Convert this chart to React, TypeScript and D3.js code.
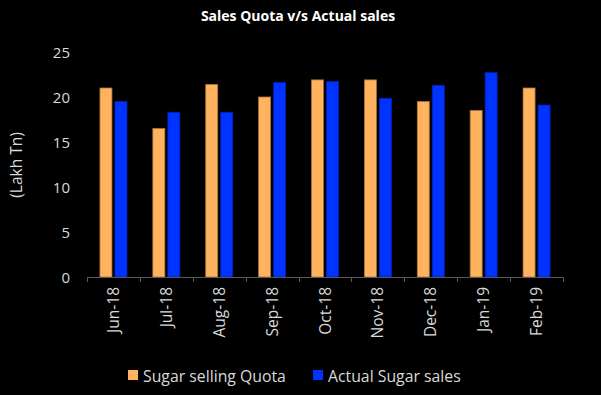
import React from "react";
import * as d3 from "d3";

const categories = ["Jun-18", "Jul-18", "Aug-18", "Sep-18", "Oct-18", "Nov-18", "Dec-18", "Jan-19", "Feb-19"];
const quota = [21, 16.5, 21.4, 20, 21.9, 21.9, 19.5, 18.5, 21];
const actual = [19.5, 18.3, 18.3, 21.6, 21.7, 19.85, 21.3, 22.7, 19.1];
const yTicks = [0, 5, 10, 15, 20, 25];
const seriesNames = ["Sugar selling Quota", "Actual Sugar sales"];

const W = 601;
const H = 395;
const FONT = "'Open Sans', 'Noto Sans', sans-serif";

export default function App() {
  const x = d3.scaleBand().domain(categories).range([87, 563]).paddingInner(0).paddingOuter(0);
  const y = d3.scaleLinear().domain([0, 25]).range([277, 52]);
  const barW = 12;
  const gap = 3;
  const colors = ["#FFB35F", "#0033FF"];
  const strokes = ["#A8733A", "#0022BB"];
  const series = [quota, actual];

  return (
    <div style={{ position: "fixed", left: 0, top: 0, width: W, height: H, background: "#000" }}>
      <svg width={W} height={H} style={{ display: "block" }}>
        <rect width={W} height={H} fill="#000" />
        <text x={298} y={21} textAnchor="middle" fill="#fff" fontFamily={FONT} fontWeight="bold" fontSize={14}>
          Sales Quota v/s Actual sales
        </text>
        <text
          transform={`translate(22,165) rotate(-90)`}
          textAnchor="middle"
          fill="#d9d9d9"
          fontFamily={FONT}
          fontSize={15.5}
        >
          (Lakh Tn)
        </text>
        {yTicks.map((t) => (
          <text key={t} x={70} y={y(t) + 5.5} textAnchor="end" fill="#d9d9d9" fontFamily={FONT} fontSize={15}>
            {t}
          </text>
        ))}
        {categories.map((c, i) => {
          const cx = (x(c) as number) + x.bandwidth() / 2;
          return (
            <g key={c}>
              {series.map((s, k) => {
                const bx = k === 0 ? cx - gap / 2 - barW : cx + gap / 2;
                return (
                  <rect
                    key={k}
                    x={bx}
                    y={y(s[i])}
                    width={barW}
                    height={y(0) - y(s[i])}
                    fill={colors[k]}
                    stroke={strokes[k]}
                    strokeWidth={0.8}
                  />
                );
              })}
              <text
                transform={`translate(${cx + 5.5},${287}) rotate(-90)`}
                textAnchor="end"
                fill="#d9d9d9"
                fontFamily={FONT}
                fontSize={15.5}
              >
                {c}
              </text>
            </g>
          );
        })}
        <line x1={87} x2={563} y1={277.5} y2={277.5} stroke="#595959" strokeWidth={1} />
        {d3.range(categories.length + 1).map((i) => {
          const tx = Math.round(87 + i * x.bandwidth()) + 0.5;
          return <line key={i} x1={tx} x2={tx} y1={277} y2={282} stroke="#595959" strokeWidth={1} />;
        })}
        <rect x={128} y={370} width={10} height={10} fill={colors[0]} />
        <text x={143} y={382} fill="#d9d9d9" fontFamily={FONT} fontSize={15.8}>
          {seriesNames[0]}
        </text>
        <rect x={313} y={370} width={10} height={10} fill={colors[1]} />
        <text x={328} y={382} fill="#d9d9d9" fontFamily={FONT} fontSize={15.8}>
          {seriesNames[1]}
        </text>
      </svg>
    </div>
  );
}
